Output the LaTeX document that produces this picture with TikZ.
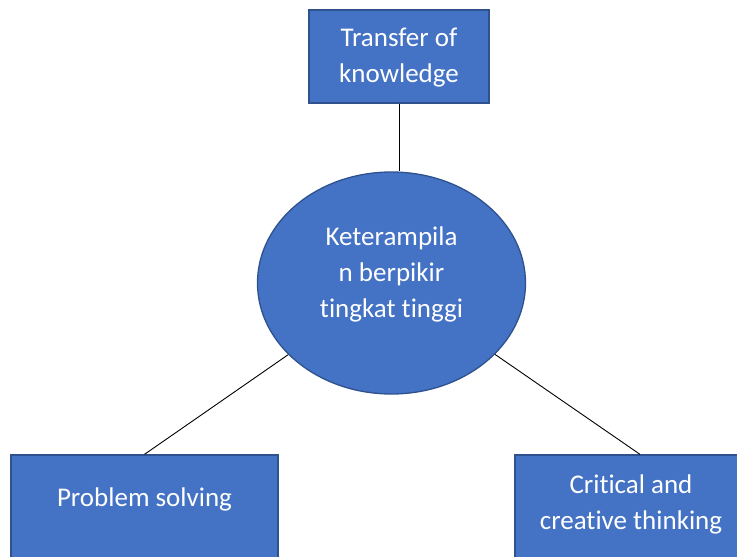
\documentclass[tikz,border=0pt]{standalone}
\usepackage{fontspec}
\setmainfont[Ligatures=NoCommon]{Carlito}
\usetikzlibrary{shapes.geometric}
\definecolor{boxblue}{HTML}{4472C4}
\definecolor{edgeblue}{HTML}{2F528F}

\begin{document}
\begin{tikzpicture}[x=1pt, y=-1pt,
  blockbox/.style={rectangle, draw=edgeblue, line width=1.3pt, fill=boxblue, inner sep=0pt},
  oval/.style={ellipse, draw=edgeblue, line width=1.3pt, fill=boxblue, inner sep=0pt},
  txt/.style={text=white, font=\fontsize{27}{36}\selectfont, align=center, inner sep=0pt},
  link/.style={draw=black, line width=0.9pt}]
  \useasboundingbox (0,0) rectangle (737,557);
  \clip (0,0) rectangle (737,557);
  \node[blockbox, minimum width=180, minimum height=93] (tk) at (399,56.5) {};
  \node[oval, minimum width=268, minimum height=222] (kbt) at (391.5,283) {};
  \node[blockbox, minimum width=267, minimum height=130] (ps) at (144.5,520) {};
  \node[blockbox, minimum width=250, minimum height=130] (ct) at (640,520) {};
  \node[txt] (tktext) at (399,58) {Transfer of\\knowledge};
  \node[txt] (kbttext) at (391.5,274) {Keterampila\\n berpikir\\tingkat tinggi};
  \node[txt] (pstext) at (144.5,499) {Problem solving};
  \node[txt] (cttext) at (631,504) {Critical and\\creative thinking};
  \draw[link] (tk.south) -- (tk.south |- kbt.north);
  \draw[link] (kbt) -- (ps.north);
  \draw[link] (kbt) -- (ct.north);
\end{tikzpicture}
\end{document}
